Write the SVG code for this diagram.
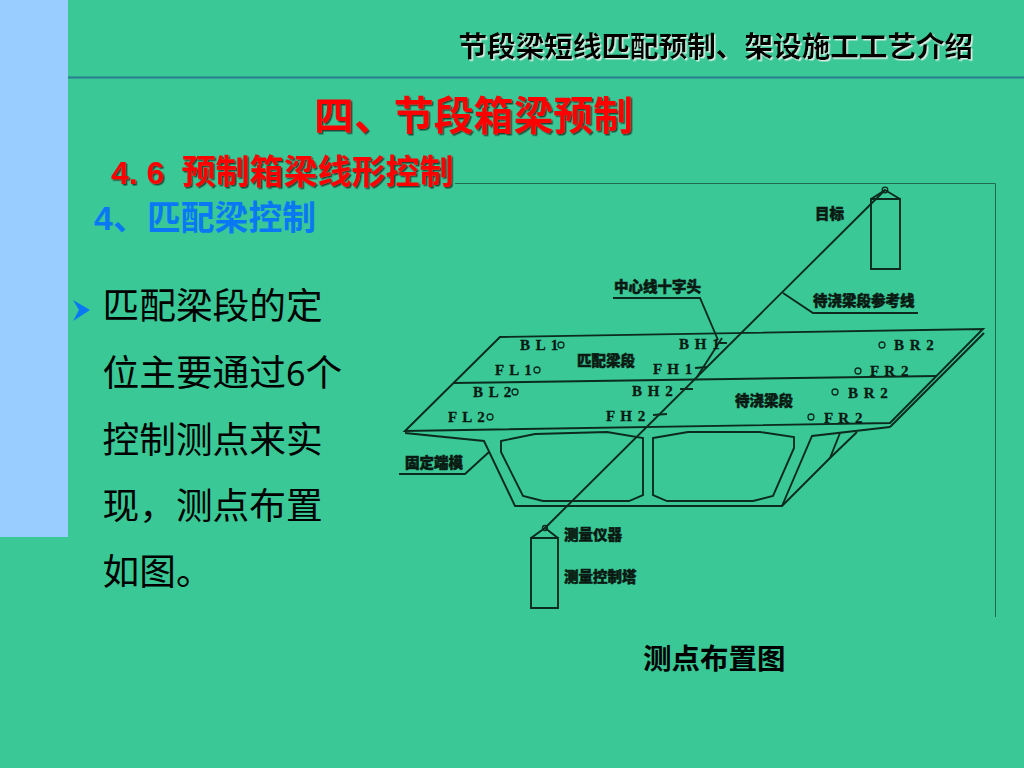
<svg xmlns="http://www.w3.org/2000/svg" width="1024" height="768" viewBox="0 0 1024 768">
<defs>
<filter id="sd" x="-5%" y="-20%" width="110%" height="140%"><feDropShadow dx="1.5" dy="1.5" stdDeviation="0.5" flood-color="#244a38"/></filter>
<filter id="sw" x="-5%" y="-20%" width="110%" height="140%"><feDropShadow dx="1.5" dy="1.5" stdDeviation="0.4" flood-color="#d8efe4"/></filter>
</defs>
<style>
text{font-family:"Noto Sans CJK SC","Noto Sans",sans-serif}
.ln{fill:none;stroke:#0c2a1e;stroke-width:1.9}
.thin{fill:none;stroke:#1d6b50;stroke-width:1}
.lb{font-size:14.5px;font-weight:900;fill:#0a1a12;stroke:#0a1a12;stroke-width:.5}
.pt{font-family:"Liberation Serif",serif;font-size:15px;font-weight:700;fill:#0a1a12;letter-spacing:1px;stroke:#0a1a12;stroke-width:.3}
.body{font-size:36.7px;fill:#000}
.ring{fill:none;stroke:#0c2a1e;stroke-width:1.3}
</style>
<rect id="background" width="1024" height="768" fill="#39C896"/>
<rect id="side-panel" width="68" height="537" fill="#99CCFF"/>
<line id="title-rule" x1="68" y1="77.5" x2="1024" y2="77.5" stroke="#2a7a90" stroke-width="2"/>
<g id="headings">
<text x="458.500" y="57" font-size="28.6" font-weight="700" fill="#000" filter="url(#sw)">节段梁短线匹配预制、架设施工工艺介绍</text>
<text x="314" y="130" font-size="39.9" font-weight="700" fill="#f00" filter="url(#sd)">四、节段箱梁预制</text>
<text x="111" y="184" font-size="34" font-weight="700" fill="#f00" filter="url(#sd)"><tspan font-family="Liberation Sans" font-size="32">4. 6</tspan><tspan x="181.500">预制箱梁线形控制</tspan></text>
<text x="94" y="230" font-size="33.8" font-weight="700" fill="#0A78F5"><tspan font-family="Liberation Sans">4</tspan><tspan x="113">、</tspan><tspan x="147">匹配梁控制</tspan></text>
</g>
<g id="body-text">
<polygon points="73,300 90,310 73,321 79,310" fill="#0A78F5"/>
<text class="body" x="102.500" y="319">匹配梁段的定</text>
<text class="body" x="102.500" y="386">位主要通过<tspan font-family="Noto Sans" font-size="34">6</tspan>个</text>
<text class="body" x="102.500" y="453">控制测点来实</text>
<text class="body" x="102.500" y="519">现，测点布置</text>
<text class="body" x="102.500" y="585">如图。</text>
</g>
<g id="frame">
<path class="thin" d="M455 183.500H995.500V617"/>
</g>
<g id="connectors">
<path class="ln" d="M545 528L885 190"/>
<path class="ln" d="M697 377L722 338"/>
<path class="ln" d="M613 298H700L718 340"/>
<path class="ln" d="M783 293L813 313H918"/>
<path class="ln" d="M399 474H465L489 452"/>
<path class="ln" d="M718 343H727M695 368L707 367M680 389H693M653 415L667 414"/>
</g>
<g id="deck">
<path class="ln" d="M405 431L500 337L983 329L890 423L405 431Z"/>
<path class="ln" d="M453 383L937 376"/>
<path class="ln" d="M984 333L890 427"/>
</g>
<g id="box-girder">
<path class="ln" d="M405 433L484 441L515 506H782L830 458L857 432"/>
<path class="ln" d="M890 427L812 436L782 506"/>
<path class="ln" d="M840 433L830 458"/>
<path class="ln" d="M501 441L535 434L607 432L643 438V495L629 501H543L523 496L501 452Z"/>
<path class="ln" d="M653 438L688 432H760L794 437V448L773 496L753 501H667L653 495Z"/>
</g>
<g id="target">
<path class="ln" d="M871 199H900V269H871ZM871 199L885 190L900 199"/>
<circle class="ring" cx="885" cy="190" r="2.800"/>
<text class="lb" x="815" y="219">目标</text>
</g>
<g id="instrument-tower">
<path class="ln" d="M531 538H558V608H531ZM531 538L545 528L558 538"/>
<circle class="ring" cx="545" cy="528" r="2.500"/>
<text class="lb" x="564" y="540">测量仪器</text>
<text class="lb" x="564" y="582">测量控制塔</text>
</g>
<g id="labels">
<text class="lb" x="614" y="292">中心线十字头</text>
<text class="lb" x="813" y="306">待浇梁段参考线</text>
<text class="lb" x="405" y="468">固定端模</text>
<text class="lb" x="577" y="366">匹配梁段</text>
<text class="lb" x="735" y="406">待浇梁段</text>
</g>
<g id="points">
<text class="pt" x="520" y="350">B L 1</text><circle class="ring" cx="561" cy="345" r="3"/>
<text class="pt" x="495" y="375">F L 1</text><circle class="ring" cx="537" cy="370" r="3"/>
<text class="pt" x="473" y="397">B L 2</text><circle class="ring" cx="515" cy="392" r="3"/>
<text class="pt" x="448" y="422">F L 2</text><circle class="ring" cx="490" cy="417" r="3"/>
<text class="pt" x="679" y="349">B H 1</text>
<text class="pt" x="653" y="374">F H 1</text>
<text class="pt" x="632" y="396">B H 2</text>
<text class="pt" x="606" y="421">F H 2</text>
<circle class="ring" cx="882" cy="345" r="3"/><text class="pt" x="894" y="350">B R 2</text>
<circle class="ring" cx="858" cy="371" r="3"/><text class="pt" x="870" y="376">F R 2</text>
<circle class="ring" cx="835" cy="392" r="3"/><text class="pt" x="848" y="398">B R 2</text>
<circle class="ring" cx="811" cy="417" r="3"/><text class="pt" x="824" y="423">F R 2</text>
</g>
<text id="caption" x="643" y="669" font-size="28.500" font-weight="700" fill="#000">测点布置图</text>
</svg>
